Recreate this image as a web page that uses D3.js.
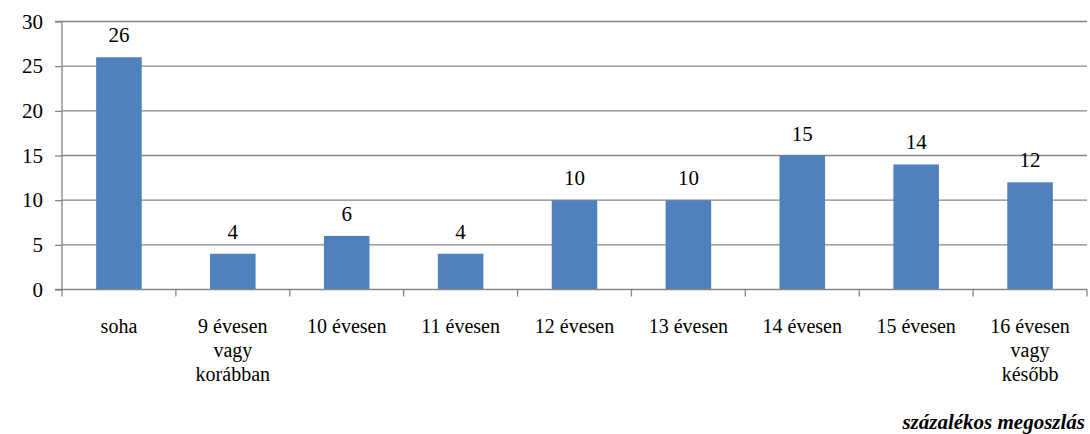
<!DOCTYPE html>
<html><head><meta charset="utf-8">
<script src="https://cdn.jsdelivr.net/npm/d3@7"></script>
</head><body style="margin:0">
<script>
const categories = [["soha"],["9 évesen","vagy","korábban"],["10 évesen"],["11 évesen"],["12 évesen"],["13 évesen"],["14 évesen"],["15 évesen"],["16 évesen","vagy","később"]];
const values = [26,4,6,4,10,10,15,14,12];
const yTicks = [0,5,10,15,20,25,30];
const footer = "százalékos megoszlás";

const W=1090,H=434;
const FF='"Liberation Serif"';
const svg=d3.select("body").append("svg").attr("width",W).attr("height",H)
 .attr("font-family","Liberation Serif").style("font-family",FF);
const mLeft=62,mRight=1087,mTop=21.5,mBottom=289.5;
const x=d3.scaleBand().domain(d3.range(values.length)).range([mLeft,mRight]).paddingInner(0.6).paddingOuter(0.3);
const xOuter=d3.scaleBand().domain(d3.range(values.length)).range([mLeft,mRight]);
const y=d3.scaleLinear().domain([0,30]).range([mBottom,mTop]);
const grid="#868686";

// gridlines
svg.append("g").selectAll("line").data(yTicks.filter(d=>d>0)).join("line")
 .attr("x1",mLeft).attr("x2",mRight).attr("y1",d=>y(d)).attr("y2",d=>y(d))
 .attr("stroke",grid).attr("stroke-width",1.3);

// bars
svg.append("g").selectAll("rect").data(values).join("rect")
 .attr("x",(d,i)=>x(i)).attr("width",x.bandwidth())
 .attr("y",d=>y(d)).attr("height",d=>y(0)-y(d)).attr("fill","#4F81BD");

// y axis
const ya=svg.append("g").attr("transform",`translate(${mLeft},0)`)
 .call(d3.axisLeft(y).tickValues(yTicks).tickSize(7).tickPadding(12));
ya.attr("font-family","Liberation Serif").attr("font-size",21);
ya.select(".domain").attr("stroke",grid).attr("stroke-width",1.3).attr("d",`M-7,${mTop}H0V${mBottom}H-7`);
ya.selectAll(".tick line").attr("stroke",grid).attr("stroke-width",1.3);
ya.selectAll(".tick text").attr("font-family","Liberation Serif").style("font-family",FF).style("font-size","21px").attr("fill","#000");

// x axis
const xa=svg.append("g").attr("transform",`translate(0,${mBottom})`);
xa.append("line").attr("x1",mLeft).attr("x2",mRight).attr("stroke",grid).attr("stroke-width",1.3);
xa.selectAll("line.t").data(d3.range(values.length+1)).join("line").attr("class","t")
 .attr("x1",i=>mLeft+i*xOuter.step()).attr("x2",i=>mLeft+i*xOuter.step())
 .attr("y1",0).attr("y2",7).attr("stroke",grid).attr("stroke-width",1.3);

// category labels
const lab=svg.append("g").selectAll("text").data(categories).join("text")
 .attr("text-anchor","middle").attr("font-family","Liberation Serif").style("font-family",FF).style("font-size","20px").attr("fill","#000");
lab.each(function(lines,i){
  d3.select(this).selectAll("tspan").data(lines).join("tspan")
   .attr("x",xOuter(i)+xOuter.bandwidth()/2).attr("y",(d,j)=>333+j*24).text(d=>d);
});

// value labels
svg.append("g").selectAll("text").data(values).join("text")
 .attr("x",(d,i)=>x(i)+x.bandwidth()/2).attr("y",d=>y(d)-15)
 .attr("text-anchor","middle").attr("font-family","Liberation Serif").style("font-family",FF).style("font-size","21px").attr("fill","#000")
 .text(d=>d);

// footer
svg.append("text").attr("x",1085).attr("y",429).attr("text-anchor","end")
 .attr("font-family","Liberation Serif").style("font-family",FF).style("font-size","21px").style("font-weight","bold").style("font-style","italic")
 .text(footer);
</script>
</body></html>
